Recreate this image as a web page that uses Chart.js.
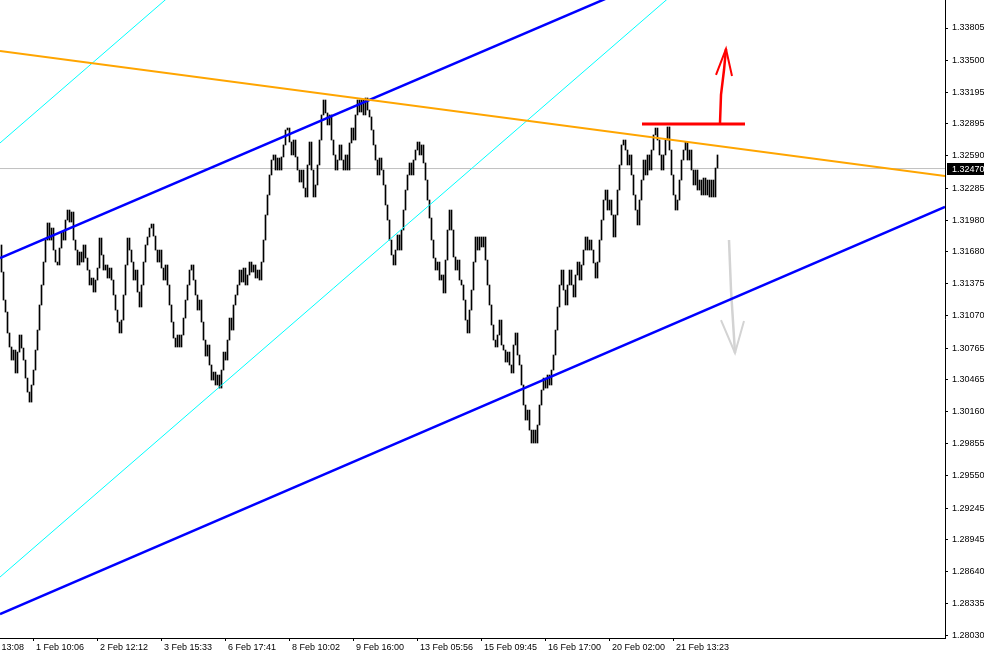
<!DOCTYPE html>
<html><head><meta charset="utf-8">
<script src="https://cdn.jsdelivr.net/npm/chart.js@4.4.0/dist/chart.umd.min.js"></script>
<style>html,body{margin:0;padding:0;background:#fff;overflow:hidden}canvas{display:block}</style>
</head><body>
<div style="width:984px;height:655px;position:relative"><canvas id="c" width="984" height="655"></canvas></div>
<script>
// ---- data ----
const firstOpen = 1.31744;
const closes = [
1.31487,1.31221,1.31107,1.30908,1.30775,1.30651,1.30746,1.30528,1.30727,1.30889,1.30765,1.30651,1.30480,1.30347,1.30252,
1.30414,1.30556,1.30746,1.30936,1.31174,1.31364,1.31582,1.31791,1.31953,
1.31791,1.31905,1.31696,1.31582,1.31554,1.31715,1.31867,1.31791,1.31981,1.32076,1.31962,1.32057,1.31791,1.31696,1.31554,1.31677,1.31582,
1.31744,1.31620,1.31506,1.31364,1.31430,1.31297,1.31411,1.31525,1.31810,1.31649,1.31506,1.31554,1.31430,1.31525,1.31411,1.31269,1.31126,1.31012,1.30908,1.31031,
1.31269,1.31554,1.31810,1.31696,1.31582,1.31411,1.31506,1.31297,1.31155,1.31364,1.31582,1.31744,1.31820,1.31905,1.31943,1.31829,1.31696,1.31582,1.31696,1.31525,
1.31411,1.31554,1.31364,1.31174,1.31012,1.30860,1.30775,1.30889,1.30775,1.30889,1.31050,1.31221,1.31364,1.31506,1.31554,1.31411,1.31269,1.31126,1.31221,1.31012,
1.30841,1.30689,1.30794,1.30604,1.30461,1.30537,1.30414,1.30509,1.30385,1.30556,1.30727,1.30651,1.30841,1.31050,1.30936,1.31174,1.31269,1.31364,1.31506,1.31392,
1.31525,1.31364,1.31459,1.31582,1.31487,1.31554,1.31430,1.31506,1.31411,1.31582,1.31791,1.32029,1.32219,1.32409,1.32551,1.32599,1.32456,1.32570,1.32456,1.32580,
1.32694,1.32836,1.32855,1.32722,1.32599,1.32741,1.32580,1.32456,1.32342,1.32456,1.32285,1.32200,1.32504,1.32722,1.32456,1.32200,1.32314,1.32504,1.32741,1.32979,
1.33121,1.32998,1.32884,1.32979,1.32741,1.32599,1.32456,1.32551,1.32694,1.32551,1.32456,1.32599,1.32456,1.32713,1.32855,1.32741,1.32979,1.33121,1.33007,1.33121,
1.32979,1.33140,1.33026,1.32960,1.32836,1.32694,1.32551,1.32409,1.32570,1.32456,1.32314,1.32124,1.31981,1.31791,1.31649,1.31554,1.31696,1.31839,1.31696,1.31886,
1.32076,1.32266,1.32409,1.32523,1.32409,1.32551,1.32646,1.32722,1.32599,1.32694,1.32523,1.32361,1.32171,1.32000,1.31791,1.31620,1.31506,1.31582,1.31411,1.31459,
1.31288,1.31601,1.31886,1.32076,1.31886,1.31630,1.31506,1.31601,1.31411,1.31364,1.31221,1.31031,1.30908,1.31126,1.31316,1.31582,1.31820,1.31696,1.31820,1.31725,
1.31820,1.31601,1.31364,1.31174,1.30984,1.30841,1.30775,1.30889,1.31031,1.30794,1.30746,1.30632,1.30727,1.30604,1.30528,1.30794,1.30908,1.30699,1.30604,1.30414,
1.30224,1.30081,1.30176,1.29986,1.29863,1.29986,1.29863,1.30034,1.30224,1.30366,1.30480,1.30385,1.30509,1.30414,1.30556,1.30699,1.30936,1.31155,1.31364,1.31506,
1.31316,1.31174,1.31364,1.31506,1.31364,1.31250,1.31459,1.31582,1.31411,1.31554,1.31696,1.31820,1.31696,1.31791,1.31696,1.31573,1.31430,1.31582,1.31791,1.31981,
1.32171,1.32266,1.32076,1.32171,1.32029,1.31820,1.32029,1.32266,1.32504,1.32694,1.32741,1.32646,1.32504,1.32599,1.32409,1.32219,1.32076,1.31934,1.32171,1.32361,
1.32551,1.32409,1.32599,1.32456,1.32646,1.32789,1.32855,1.32741,1.32599,1.32456,1.32599,1.32741,1.32865,1.32646,1.32409,1.32219,1.32076,1.32171,1.32361,1.32551,
1.32646,1.32722,1.32551,1.32646,1.32456,1.32314,1.32456,1.32266,1.32361,1.32219,1.32380,1.32219,1.32361,1.32200,1.32361,1.32200,1.32475,1.32599
];
const priceTicks = [1.33805,1.33500,1.33195,1.32895,1.32590,1.32285,1.31980,1.31680,1.31375,1.31070,
  1.30765,1.30465,1.30160,1.29855,1.29550,1.29245,1.28945,1.28640,1.28335,1.28030];
const timeTickBars = [-16,16,48,80,112,144,176,208,240,272,304,336];
const timeLabels = ["31 Jan 13:08","1 Feb 10:06","2 Feb 12:12","3 Feb 15:33","6 Feb 17:41","8 Feb 10:02",
  "9 Feb 16:00","13 Feb 05:56","15 Feb 09:45","16 Feb 17:00","20 Feb 02:00","21 Feb 13:23"];
const currentPrice = 1.32470;
const yMin = 1.28011, yMax = 1.34071;
const xMin = -0.75, xMax = 471.75;

// drawn objects (bar index, price)
const orangeLine = [{x:-0.75,y:1.33587},{x:471.75,y:1.32399}];
const blueUpper  = [{x:-0.75,y:1.31620},{x:309.25,y:1.34141}];
const blueLower  = [{x:-0.75,y:1.28238},{x:471.75,y:1.32105}];
const aquaUpper  = [{x:-0.75,y:1.32713},{x:84.25,y:1.34111}];
const aquaLower  = [{x:-0.75,y:1.28590},{x:339.25,y:1.34184}];
const redLevel   = [{x:320.25,y:1.32893},{x:371.75,y:1.32893}];
const redShaft   = [{x:359.25,y:1.32903},{x:359.75,y:1.33169},{x:361.25,y:1.33406},{x:362.25,y:1.33606}];
const redHead    = [{x:357.25,y:1.33359},{x:362.25,y:1.33606},{x:365.25,y:1.33349}];
const grayShaft  = [{x:363.75,y:1.31791},{x:364.75,y:1.31316},{x:366.75,y:1.30718}];
const grayHead   = [{x:359.75,y:1.31031},{x:366.75,y:1.30718},{x:371.25,y:1.31022}];

// ---- build ----
const bars = closes.map((c,i)=>{
  const o = i===0 ? firstOpen : closes[i-1];
  return {x:i, y:[Math.min(o,c), Math.max(o,c)]};
});
const labelMap = {};
timeTickBars.forEach((b,i)=>labelMap[b]=timeLabels[i]);
const FONT = {family:'Liberation Sans', size:9};

function lineDs(data,color,width,order){
  return {type:'line',data,borderColor:color,borderWidth:width,pointRadius:0,tension:0,fill:false,order};
}

const bgPlugin = {id:'bg',beforeDraw(ch){const c=ch.ctx;c.save();c.fillStyle='#fff';c.fillRect(0,0,ch.width,ch.height);c.restore();}};
const pricePlugin = {id:'pbox',afterDraw(ch){
  const c=ch.ctx, ys=ch.scales.y; const y=Math.round(ys.getPixelForValue(currentPrice));
  c.save(); c.fillStyle='#000'; c.fillRect(947,y-6,37,12);
  c.fillStyle='#fff'; c.font='9px "Liberation Sans"'; c.textBaseline='middle'; c.textAlign='left';
  c.fillText(currentPrice.toFixed(5),952,y+0.5); c.restore();
}};

new Chart(document.getElementById('c'),{
  type:'bar',
  data:{datasets:[
    {type:'bar',data:bars,backgroundColor:'#000',borderWidth:0,barThickness:1,order:2},
    lineDs([{x:xMin,y:currentPrice},{x:xMax,y:currentPrice}],'#C0C0C0',1,3),
    lineDs(aquaUpper,'#00FFFF',1,1),
    lineDs(aquaLower,'#00FFFF',1,1),
    lineDs(orangeLine,'#FFA500',2,0),
    lineDs(blueUpper,'#0000FF',2.5,0),
    lineDs(blueLower,'#0000FF',2.5,0),
    lineDs(redLevel,'#FF0000',3,0),
    lineDs(redShaft,'#FF0000',2.5,0),
    lineDs(redHead,'#FF0000',2,0),
    lineDs(grayShaft,'#D3D3D3',2.5,0),
    lineDs(grayHead,'#D3D3D3',2,0)
  ]},
  options:{
    responsive:false, animation:false, devicePixelRatio:1,
    layout:{padding:0},
    plugins:{legend:{display:false},tooltip:{enabled:false}},
    events:[],
    scales:{
      x:{type:'linear',position:'bottom',min:xMin,max:xMax,offset:false,
        afterBuildTicks:s=>{s.ticks=timeTickBars.map(v=>({value:v}));},
        afterFit:s=>{s.height=17;s.paddingLeft=0;s.paddingRight=0;s.paddingTop=0;s.paddingBottom=0;},
        grid:{display:true,drawOnChartArea:false,drawTicks:true,tickLength:3,tickColor:'#000',offset:false},
        border:{display:true,color:'#000',width:1},
        ticks:{autoSkip:false,maxRotation:0,minRotation:0,align:'start',padding:1,color:'#000',font:FONT,
          callback:v=>labelMap[v]!==undefined?' '+labelMap[v]:''}
      },
      y:{type:'linear',position:'right',min:yMin,max:yMax,
        afterBuildTicks:s=>{s.ticks=priceTicks.map(v=>({value:v}));},
        afterFit:s=>{s.width=39;s.paddingTop=0;s.paddingBottom=0;s.paddingLeft=0;s.paddingRight=0;},
        grid:{display:true,drawOnChartArea:false,drawTicks:true,tickLength:3,tickColor:'#000'},
        border:{display:true,color:'#000',width:1},
        ticks:{autoSkip:false,padding:4,color:'#000',font:FONT,callback:v=>v.toFixed(5)}
      }
    }
  },
  plugins:[bgPlugin,pricePlugin]
});
</script>
</body></html>
